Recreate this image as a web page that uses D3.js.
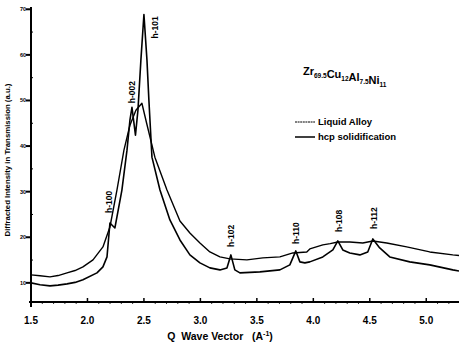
<!DOCTYPE html>
<html>
<head>
<meta charset="utf-8">
<script src="https://cdn.jsdelivr.net/npm/d3@7/dist/d3.min.js"></script>
<style>
html,body{margin:0;padding:0;background:#fff;}
svg{display:block;font-family:"Liberation Sans",Arial,sans-serif;}
</style>
</head>
<body>
<svg id="chart" width="459" height="343"></svg>
<script>
// Q wave vector (1/A) and diffracted intensity (a.u.)
const liquidQ = [1.50,1.58,1.668,1.74,1.819,1.89,1.960,2.049,2.137,2.199,2.261,2.323,2.376,2.429,2.482,2.524,2.597,2.704,2.819,2.907,2.996,3.084,3.173,3.261,3.412,3.553,3.704,3.819,3.942,3.969,4.084,4.15,4.217,4.323,4.438,4.527,4.650,4.827,5.031,5.235,5.29];
const liquidI = [11.75,11.55,11.31,11.60,12.19,12.70,13.50,15.03,17.88,22.25,30.35,39.10,44.57,47.86,49.39,45.01,37.57,30.35,23.57,20.94,18.75,16.78,15.69,15.25,15.03,15.47,15.69,16.56,16.78,17.44,18.32,18.60,18.97,18.97,18.75,19.19,18.75,17.88,16.78,16.13,16.0];
const hcpQ = [1.50,1.58,1.668,1.74,1.819,1.89,1.960,2.084,2.137,2.173,2.199,2.243,2.305,2.350,2.376,2.394,2.425,2.447,2.473,2.500,2.527,2.544,2.571,2.642,2.730,2.819,2.907,2.996,3.084,3.173,3.235,3.270,3.305,3.350,3.527,3.704,3.792,3.845,3.881,3.925,3.969,4.084,4.173,4.217,4.261,4.323,4.412,4.482,4.527,4.588,4.677,4.854,5.031,5.235,5.29];
const hcpI = [10.0,9.60,9.34,9.50,9.78,10.10,10.66,12.19,13.50,15.69,23.13,22.04,30.35,39.10,45.67,48.51,42.39,47.86,58.80,68.86,58.80,50.04,37.57,30.35,23.79,19.41,16.13,14.38,13.28,12.84,13.28,16.13,12.84,12.19,12.41,12.84,13.94,17.00,14.60,14.38,14.60,15.69,17.22,19.19,17.22,16.56,16.13,16.78,19.63,17.66,15.69,14.60,13.94,12.84,12.6];
// peak annotations
const peakLabels = ["h-100","h-002","h-101","h-102","h-110","h-108","h-112"];
const peakQ = [2.199,2.394,2.500,3.270,3.845,4.217,4.527];
const peakI = [23.13,48.51,68.86,16.13,17.00,19.19,19.63];
// axis ticks
const xTicks = [1.5,2.0,2.5,3.0,3.5,4.0,4.5,5.0];
const yTicks = [10,20,30,40,50,60,70];
const yTickLabels = ["10","20","30","40","50","60","70"];
const legendNames = ["Liquid Alloy","hcp solidification"];

const svg = d3.select("#chart");
const x = d3.scaleLinear().domain([1.5, 5.29]).range([31, 459]);
const y = d3.scaleLinear().domain([5.8, 70.5]).range([302, 7]);

// y axis
const yAxisG = svg.append("g").attr("transform","translate(31,0)");
yAxisG.append("line").attr("x1",0).attr("x2",0).attr("y1",y(70.5)).attr("y2",307)
  .attr("stroke","#000").attr("stroke-width",2);
yAxisG.selectAll(".ymaj").data(yTicks).enter().append("line")
  .attr("x1",-5).attr("x2",0).attr("y1",d=>y(d)).attr("y2",d=>y(d))
  .attr("stroke","#000").attr("stroke-width",2);
yAxisG.selectAll(".ymin").data(yTicks.map(d=>d+5).filter(d=>d<70)).enter().append("line")
  .attr("x1",0).attr("x2",2).attr("y1",d=>y(d)).attr("y2",d=>y(d))
  .attr("stroke","#000").attr("stroke-width",1);
yAxisG.selectAll(".ylab").data(yTicks).enter().append("text")
  .attr("x",-5).attr("y",d=>y(d)+2).attr("text-anchor","end")
  .attr("font-size","5.5px").attr("font-weight","bold")
  .text((d,i)=>yTickLabels[i]);

// x axis
const xAxisG = svg.append("g").attr("transform","translate(0,302)");
xAxisG.append("line").attr("x1",29).attr("x2",459).attr("y1",0).attr("y2",0)
  .attr("stroke","#000").attr("stroke-width",2);
xAxisG.selectAll(".xmaj").data(xTicks).enter().append("line")
  .attr("x1",d=>x(d)).attr("x2",d=>x(d)).attr("y1",-4).attr("y2",0)
  .attr("stroke","#000").attr("stroke-width",1.5);
xAxisG.selectAll(".xmin").data(d3.range(16,53).map(d=>d/10).filter(d=>!xTicks.includes(d))).enter().append("line")
  .attr("x1",d=>x(d)).attr("x2",d=>x(d)).attr("y1",0).attr("y2",2)
  .attr("stroke","#000").attr("stroke-width",0.8);
xAxisG.selectAll(".xlab").data(xTicks).enter().append("text")
  .attr("x",d=>x(d)).attr("y",22).attr("text-anchor","middle")
  .attr("font-size","10px").attr("font-weight","bold")
  .text(d=>d.toFixed(1));

// axis titles
const xt = svg.append("text").attr("x",220).attr("y",340).attr("text-anchor","middle")
  .attr("font-size","10.5px").attr("font-weight","bold").attr("xml:space","preserve");
xt.append("tspan").text("Q  Wave Vector   (A");
xt.append("tspan").attr("dy",-4).attr("font-size","7px").text("-1");
xt.append("tspan").attr("dy",4).text(")");

svg.append("text").attr("transform","translate(10,160) rotate(-90)")
  .attr("text-anchor","middle").attr("font-size","7.8px").attr("font-weight","bold")
  .text("Diffracted Intensity in Transmission  (a.u.)");

// curves
const line = d3.line().x(d=>x(d[0])).y(d=>y(d[1]));
const liquidData = liquidQ.map((q,i)=>[q,liquidI[i]]);
const hcpData = hcpQ.map((q,i)=>[q,hcpI[i]]);
svg.append("path").datum(liquidData).attr("d",line).attr("fill","none")
  .attr("stroke","#000").attr("stroke-width",1.4).attr("stroke-linejoin","round");
svg.append("path").datum(hcpData).attr("d",line).attr("fill","none")
  .attr("stroke","#000").attr("stroke-width",1.6).attr("stroke-linejoin","round");

// peak labels (rotated)
const labelOffsets = [10, 4, -24, 8, 7, 9, 10];
const labelDx = [-1, 0, 11, 0, 0, 1, 1];
svg.selectAll(".pk").data(peakLabels).enter().append("text")
  .attr("transform",(d,i)=>`translate(${x(peakQ[i])+labelDx[i]+3},${y(peakI[i])-labelOffsets[i]}) rotate(-90)`)
  .attr("font-size","8.5px").attr("font-weight","bold")
  .text(d=>d);

// compound title
const title = svg.append("text").attr("x",303).attr("y",75).attr("font-size","11px").attr("font-weight","bold");
const parts = [["Zr","69.5"],["Cu","12"],["Al","7.5"],["Ni","11"]];
parts.forEach(p=>{
  title.append("tspan").attr("font-size","11px").text(p[0]);
  title.append("tspan").attr("font-size","6.5px").attr("dy",3).text(p[1]);
  title.append("tspan").attr("font-size","11px").attr("dy",-3).text("");
});

// legend
const lg = svg.append("g");
legendNames.forEach((n,i)=>{
  const yy = 122 + i*15;
  lg.append("line").attr("x1",295).attr("x2",315).attr("y1",yy).attr("y2",yy)
    .attr("stroke","#000").attr("stroke-width",i===0?1:1.5)
    .attr("stroke-dasharray",i===0?"2,0.6":null);
  lg.append("text").attr("x",318).attr("y",yy+3).attr("font-size","9.5px").attr("font-weight","bold").text(n);
});
</script>
</body>
</html>
